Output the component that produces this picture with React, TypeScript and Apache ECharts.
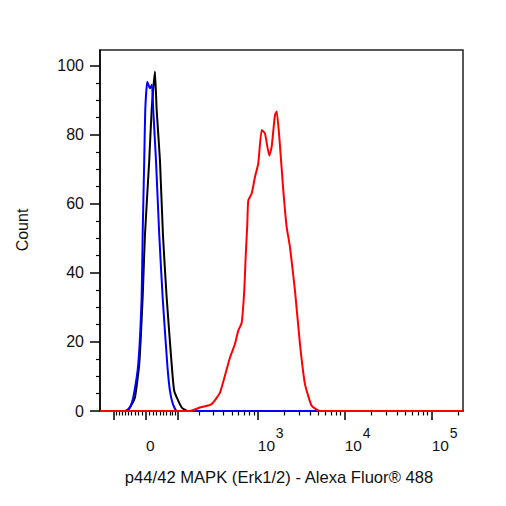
import React, { useEffect, useRef } from "react";
import * as echarts from "echarts";

const FONT = "'Liberation Sans', Arial, sans-serif";

// biexponential display: asinh with a linear width around zero
const BIEX_W = 104;
const T = (v: number) => Math.asinh(v / BIEX_W) / Math.LN10;

const X_MIN = -160;
const X_MAX = 229000;
const Y_MAX = 104.6;

// fluorescence intensity vs count
const blackX = [-160, -61, -50.5, -42.4, -30.7, -18.5, -9.1, -2.75, 9.1, 15.8, 25.0, 29.9, 39.4, 48.4, 59.9, 76.3, 85.4, 113.6, 140.9, 229000];
const blackY = [0, 0, 0.5, 1.5, 3.9, 13.6, 32.9, 51, 72.7, 87.2, 98.4, 87.2, 72.7, 51, 32.9, 13.6, 5.8, 1, 0, 0];

const blueX = [-160, -55.5, -45.4, -35.6, -21.3, -11.9, -9.1, -4.7, -1.9, 3.6, 11.0, 16.6, 20.2, 27.9, 37.4, 47.5, 61.8, 70.6, 80.8, 95.2, 229000];
const blueY = [0, 0, 1, 3.9, 13.6, 32.9, 51, 72.7, 87.2, 95.4, 93.5, 94.5, 87.2, 72.7, 51, 32.9, 13.6, 5.8, 2, 0, 0];

const redX = [-160, 150.4, 204.7, 286.8, 361.3, 474.7, 543.4, 593.8, 650.4, 697.5, 724.3, 755.7, 776.2, 849.9, 928, 1013, 1109, 1211, 1357, 1447, 1579, 1652, 1770, 1968, 2153, 2350, 2683, 3063, 3496, 4174, 5201, 229000];
const redY = [0, 0, 1, 2, 5.3, 15.5, 19.4, 23.3, 25.5, 34.9, 44.6, 54, 61, 63, 67.8, 71.7, 81.4, 80.4, 74, 76.6, 85.8, 86.8, 79.5, 64, 53.3, 47.5, 34.9, 19.4, 7.8, 1.5, 0, 0];

// axis ticks
const xMajorTicks = [-100, 0, 100, 1000, 10000, 100000];
const xMinorTicks = [
  -90, -80, -70, -60, -50, -40, -30, -20, -10,
  10, 20, 30, 40, 50, 60, 70, 80, 90,
  200, 300, 400, 500, 600, 700, 800, 900,
  2000, 3000, 4000, 5000, 6000, 7000, 8000, 9000,
  20000, 30000, 40000, 50000, 60000, 70000, 80000, 90000,
  200000,
];
const xLabelValues = [0, 1000, 10000, 100000];
const xLabelBases = ["0", "10", "10", "10"];
const xExpValues = [1000, 10000, 100000];
const xExpTexts = ["3", "4", "5"];

const yMajorTicks = [0, 20, 40, 60, 80, 100];
const yMinorTicks = [5, 10, 15, 25, 30, 35, 45, 50, 55, 65, 70, 75, 85, 90, 95];

const pairs = (xs: number[], ys: number[]) => xs.map((x, i) => [T(x), ys[i]]);
const pick = (vals: number[], texts: string[]) => (val: number) => {
  const i = vals.findIndex(v => Math.abs(T(v) - val) < 1e-6);
  return i < 0 ? "" : texts[i];
};

export default function App() {
  const ref = useRef<HTMLDivElement>(null);

  useEffect(() => {
    const el = ref.current;
    if (!el) return;
    const chart = echarts.init(el, undefined, { renderer: "svg" });

    const xBase = { type: "value", min: T(X_MIN), max: T(X_MAX), position: "bottom", splitLine: { show: false } };
    const yBase = { type: "value", min: 0, max: Y_MAX, position: "left", splitLine: { show: false } };
    const line = (name: string, color: string, xs: number[], ys: number[]) => ({
      name,
      type: "line",
      data: pairs(xs, ys),
      showSymbol: false,
      smooth: 0.15,
      lineStyle: { color, width: 2 },
      itemStyle: { color },
    });

    chart.setOption({
      animation: false,
      backgroundColor: "#fff",
      grid: { left: 100, right: 43, top: 50, bottom: 95, show: true, borderColor: "#222", borderWidth: 1.5 },
      xAxis: [
        {
          ...xBase,
          axisLine: { show: true, onZero: false, lineStyle: { color: "#000", width: 1.5 } },
          axisTick: { show: true, length: 9, customValues: xMajorTicks.map(T), lineStyle: { color: "#000", width: 1.5 } },
          axisLabel: {
            customValues: xLabelValues.map(T),
            align: "left",
            margin: 26,
            fontFamily: FONT,
            fontSize: 15.5,
            color: "#111",
            formatter: pick(xLabelValues, xLabelBases),
          },
        },
        {
          ...xBase,
          axisLine: { show: false, onZero: false },
          axisTick: { show: true, length: 4.5, customValues: xMinorTicks.map(T), lineStyle: { color: "#000", width: 1.2 } },
          axisLabel: { show: false },
        },
        {
          // superscript exponents of the decade labels
          ...xBase,
          axisLine: { show: false, onZero: false },
          axisTick: { show: false },
          axisLabel: {
            customValues: xExpValues.map(T),
            align: "left",
            margin: 15,
            padding: [0, 0, 0, 18],
            fontFamily: FONT,
            fontSize: 14,
            color: "#111",
            formatter: pick(xExpValues, xExpTexts),
          },
        },
      ],
      yAxis: [
        {
          ...yBase,
          axisLine: { show: true, onZero: false, lineStyle: { color: "#000", width: 1.5 } },
          axisTick: { show: true, length: 10, customValues: yMajorTicks, lineStyle: { color: "#000", width: 1.5 } },
          axisLabel: { customValues: yMajorTicks, margin: 16, fontFamily: FONT, fontSize: 16, color: "#111" },
        },
        {
          ...yBase,
          axisLine: { show: false, onZero: false },
          axisTick: { show: true, length: 4, customValues: yMinorTicks, lineStyle: { color: "#000", width: 1.2 } },
          axisLabel: { show: false },
        },
      ],
      graphic: [
        {
          type: "text",
          x: 279,
          y: 477,
          style: { text: "p44/42 MAPK (Erk1/2) - Alexa Fluor® 488", font: `16.6px ${FONT}`, fill: "#111", align: "center", verticalAlign: "middle" },
        },
        {
          type: "text",
          x: 22,
          y: 230,
          rotation: Math.PI / 2,
          style: { text: "Count", font: `16px ${FONT}`, fill: "#111", align: "center", verticalAlign: "middle" },
        },
      ],
      series: [
        line("Black", "#000000", blackX, blackY),
        line("Blue", "#0000ff", blueX, blueY),
        line("Red", "#ff0000", redX, redY),
      ],
    });

    return () => chart.dispose();
  }, []);

  return <div ref={ref} style={{ position: "fixed", left: 0, top: 0, width: 506, height: 506 }} />;
}
